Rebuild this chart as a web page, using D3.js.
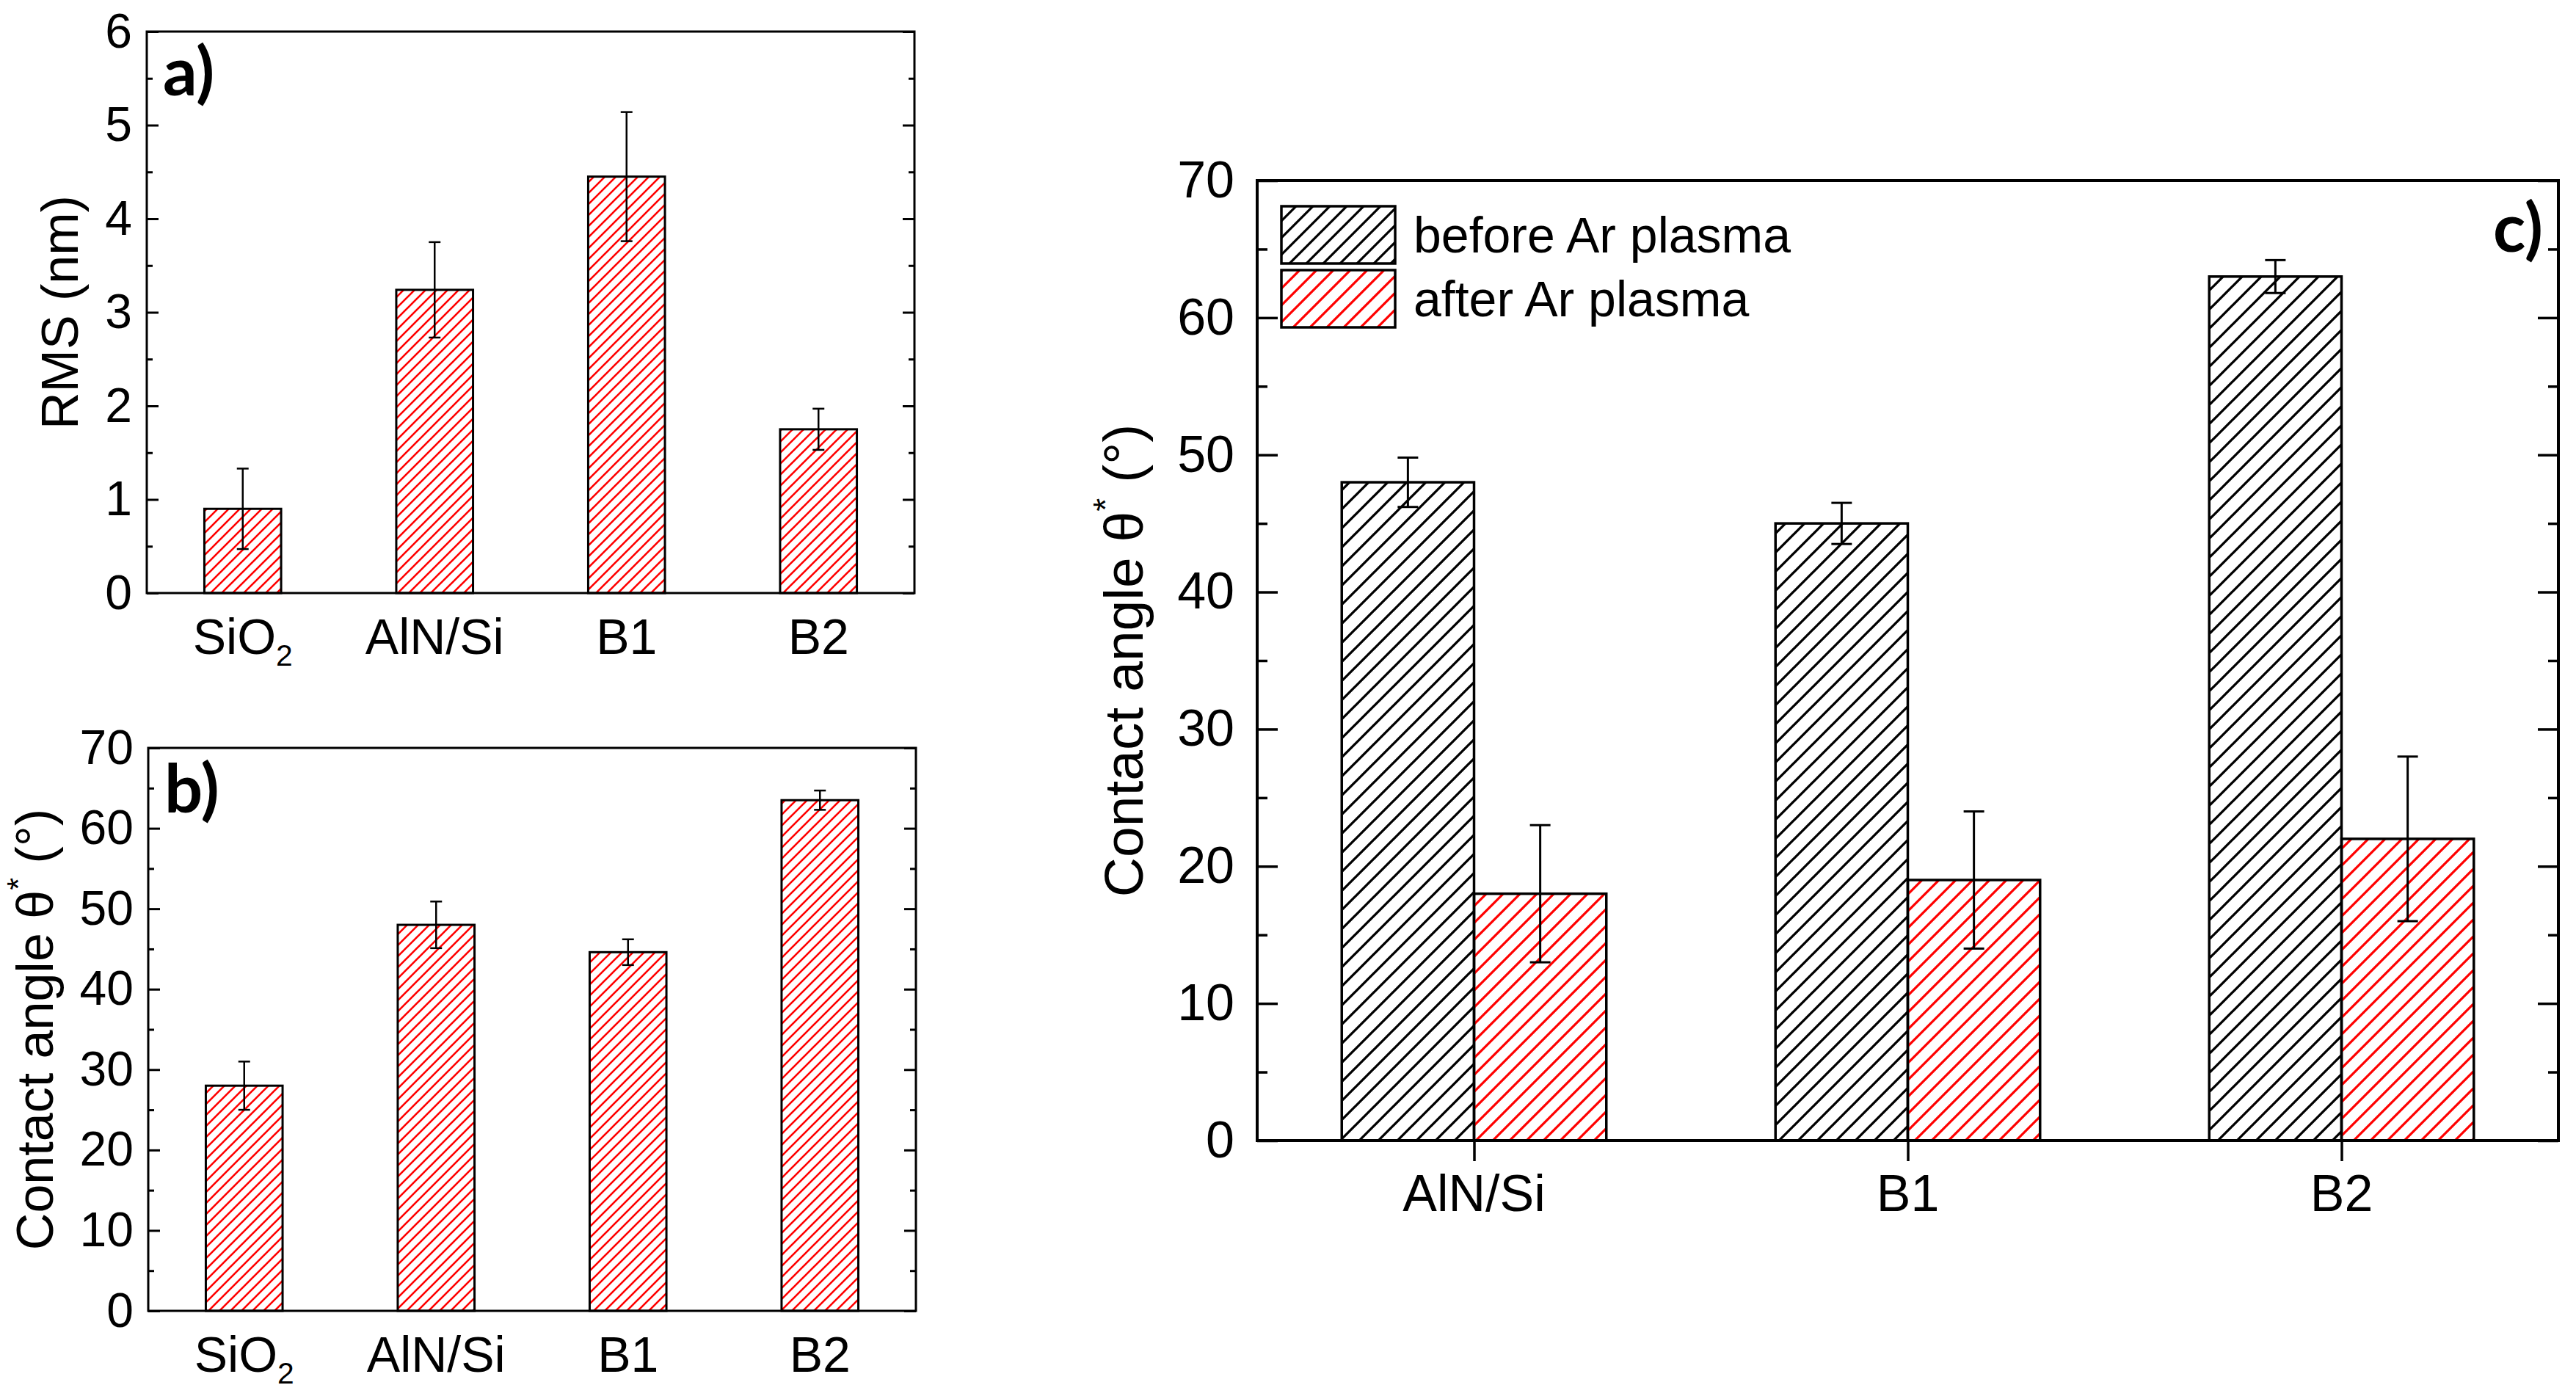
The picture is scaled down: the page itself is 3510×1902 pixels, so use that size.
<!DOCTYPE html>
<html>
<head>
<meta charset="utf-8">
<script src="https://cdn.jsdelivr.net/npm/d3@7"></script>
<style>
  body { margin: 0; background: #fff; }
  text { font-family: "Liberation Sans", Arial, sans-serif; fill: #000; }
  .tag { font-family: Lato, "Open Sans", sans-serif; font-weight: 700; }
</style>
</head>
<body>
<div id="charts"></div>
<script>
// panels a) and b)
const samplesAB = ["SiO2", "AlN/Si", "B1", "B2"];
const rmsValues = [0.9, 3.24, 4.45, 1.75];
const rmsErrors = [0.43, 0.51, 0.69, 0.22];
const angleValues = [28, 48, 44.6, 63.5];
const angleErrors = [3, 2.9, 1.6, 1.2];
const rmsTicks = [0, 1, 2, 3, 4, 5, 6];
const angleTicks = [0, 10, 20, 30, 40, 50, 60, 70];

// panel c)
const samplesC = ["AlN/Si", "B1", "B2"];
const beforeValues = [48, 45, 63];
const beforeErrors = [1.8, 1.5, 1.2];
const afterValues = [18, 19, 22];
const afterErrors = [5, 5, 6];
const seriesNames = ["before Ar plasma", "after Ar plasma"];

window.onload = init;

function hatch(defs, id, color, gap, sw) {
    const p = defs.append('pattern').attr('id', id)
        .attr('patternUnits', 'userSpaceOnUse')
        .attr('width', gap).attr('height', gap);
    p.append('path')
        .attr('d', `M0,${gap} L${gap},0 M${-gap / 2},${gap / 2} L${gap / 2},${-gap / 2} M${gap / 2},${gap * 1.5} L${gap * 1.5},${gap / 2}`)
        .attr('stroke', color).attr('stroke-width', sw).attr('fill', 'none');
}

// writes a category label, "SiO2" gets a subscript
function catLabel(sel, name) {
    if (name === "SiO2") {
        sel.append('tspan').text('SiO');
        sel.append('tspan').text('2').attr('font-size', '0.6em').attr('dy', '0.38em');
    } else {
        sel.text(name);
    }
}

function yTitle(g, x, y, size, parts) {
    const t = g.append('text').attr('transform', `translate(${x},${y}) rotate(-90)`)
        .attr('text-anchor', 'middle').attr('font-size', size);
    t.append('tspan').text(parts[0]);
    if (parts.length > 1) {
        t.append('tspan').text(parts[1]).attr('font-size', '0.62em').attr('dy', '-0.75em');
        t.append('tspan').text(parts[2]).attr('dy', '0.45em');
    }
}

function yAxes(g, y, ticks, left, right, major, minor, lw, pad, fs) {
    const step = ticks[1] - ticks[0];
    const minors = ticks.slice(0, -1).map(t => t + step / 2);
    const la = g.append('g').attr('transform', `translate(${left},0)`)
        .call(d3.axisLeft(y).tickValues(ticks).tickFormat(d => d)
            .tickSizeInner(-major).tickSizeOuter(0).tickPadding(pad));
    g.append('g').attr('transform', `translate(${left},0)`)
        .call(d3.axisLeft(y).tickValues(minors).tickSizeInner(-minor).tickSizeOuter(0).tickFormat(''));
    g.append('g').attr('transform', `translate(${right},0)`)
        .call(d3.axisRight(y).tickValues(ticks).tickSizeInner(-major).tickSizeOuter(0).tickFormat(''));
    g.append('g').attr('transform', `translate(${right},0)`)
        .call(d3.axisRight(y).tickValues(minors).tickSizeInner(-minor).tickSizeOuter(0).tickFormat(''));
    g.selectAll('.domain').remove();
    g.selectAll('.tick line').attr('stroke', '#000').attr('stroke-width', lw);
    la.selectAll('text').attr('font-size', fs).attr('font-family', '"Liberation Sans", Arial, sans-serif');
}

function smallPanel(svg, box, values, errors, ticks, title, tag) {
    const g = svg.append('g');
    const x = d3.scaleLinear().domain([0.5, samplesAB.length + 0.5]).range([box.left, box.right]);
    const y = d3.scaleLinear().domain([0, ticks[ticks.length - 1]]).range([box.bottom, box.top]);
    const bw = x(1.2) - x(1);

    g.selectAll('rect.bar').data(values).enter().append('rect').attr('class', 'bar')
        .attr('x', (d, i) => x(i + 1) - bw).attr('width', bw * 2)
        .attr('y', d => y(d)).attr('height', d => y(0) - y(d))
        .attr('fill', 'url(#hatchRedA)').attr('stroke', '#000').attr('stroke-width', 3);

    g.selectAll('g.err').data(values).enter().append('g').attr('class', 'err')
        .each(function (d, i) {
            const e = errors[i], cx = x(i + 1), s = d3.select(this);
            s.append('line').attr('x1', cx).attr('x2', cx).attr('y1', y(d - e)).attr('y2', y(d + e));
            s.append('line').attr('x1', cx - 8).attr('x2', cx + 8).attr('y1', y(d - e)).attr('y2', y(d - e));
            s.append('line').attr('x1', cx - 8).attr('x2', cx + 8).attr('y1', y(d + e)).attr('y2', y(d + e));
        }).selectAll('line').attr('stroke', '#000').attr('stroke-width', 2.5);

    yAxes(g, y, ticks, box.left, box.right, 16, 8, 3, 20, 66);

    g.append('rect').attr('x', box.left).attr('y', box.top)
        .attr('width', box.right - box.left).attr('height', box.bottom - box.top)
        .attr('fill', 'none').attr('stroke', '#000').attr('stroke-width', 3);

    samplesAB.forEach((s, i) => {
        const t = g.append('text').attr('x', x(i + 1)).attr('y', box.bottom + 83)
            .attr('text-anchor', 'middle').attr('font-size', 68);
        catLabel(t, s);
    });

    yTitle(g, box.titleX, (box.top + box.bottom) / 2, 70, title);
    g.append('text').attr('class', 'tag').attr('x', box.left + 22).attr('y', box.tagY)
        .attr('font-size', 92).text(tag);
}

function init() {
    const width = 3510;
    const height = 1902;
    const svg = d3.select('#charts').append('svg').attr('width', width).attr('height', height);
    svg.append('rect').attr('width', width).attr('height', height).attr('fill', '#fff');

    const defs = svg.append('defs');
    hatch(defs, 'hatchRedA', '#ff0000', 15, 2.6);
    hatch(defs, 'hatchBlackC', '#000', 26, 3.3);
    hatch(defs, 'hatchRedC', '#ff0000', 23, 3.2);
    hatch(defs, 'hatchBlackL', '#000', 23, 3.2);
    hatch(defs, 'hatchRedL', '#ff0000', 23, 3.2);

    smallPanel(svg, { left: 200, right: 1246, top: 43, bottom: 808, titleX: 106, tagY: 130 },
        rmsValues, rmsErrors, rmsTicks, ["RMS (nm)"], "a)");
    smallPanel(svg, { left: 202, right: 1248, top: 1019, bottom: 1786, titleX: 72, tagY: 1107 },
        angleValues, angleErrors, angleTicks, ["Contact angle θ", "*", " (°)"], "b)");

    // panel c
    const box = { left: 1713, right: 3486, top: 246, bottom: 1554 };
    const g = svg.append('g');
    const x = d3.scaleLinear().domain([0.5, samplesC.length + 0.5]).range([box.left, box.right]);
    const y = d3.scaleLinear().domain([0, 70]).range([box.bottom, box.top]);
    const bw = x(1.305) - x(1);
    const series = [
        { vals: beforeValues, errs: beforeErrors, fill: 'url(#hatchBlackC)', off: -1 },
        { vals: afterValues, errs: afterErrors, fill: 'url(#hatchRedC)', off: 0 }
    ];

    series.forEach(s => {
        g.selectAll(null).data(s.vals).enter().append('rect')
            .attr('x', (d, i) => x(i + 1) + s.off * bw).attr('width', bw)
            .attr('y', d => y(d)).attr('height', d => y(0) - y(d))
            .attr('fill', s.fill).attr('stroke', '#000').attr('stroke-width', 3.5);
    });
    series.forEach(s => {
        s.vals.forEach((d, i) => {
            const cx = x(i + 1) + s.off * bw + bw / 2, e = s.errs[i];
            const eg = g.append('g').attr('stroke', '#000').attr('stroke-width', 3);
            eg.append('line').attr('x1', cx).attr('x2', cx).attr('y1', y(d - e)).attr('y2', y(d + e));
            eg.append('line').attr('x1', cx - 14).attr('x2', cx + 14).attr('y1', y(d - e)).attr('y2', y(d - e));
            eg.append('line').attr('x1', cx - 14).attr('x2', cx + 14).attr('y1', y(d + e)).attr('y2', y(d + e));
        });
    });

    yAxes(g, y, angleTicks, box.left, box.right, 28, 14, 3.5, 31, 70);

    const xa = g.append('g').attr('transform', `translate(0,${box.bottom})`)
        .call(d3.axisBottom(x).tickValues(d3.range(1, samplesC.length + 1))
            .tickSizeInner(28).tickSizeOuter(0).tickFormat(''));
    xa.select('.domain').remove();
    xa.selectAll('.tick line').attr('stroke', '#000').attr('stroke-width', 3.5);

    g.append('rect').attr('x', box.left).attr('y', box.top)
        .attr('width', box.right - box.left).attr('height', box.bottom - box.top)
        .attr('fill', 'none').attr('stroke', '#000').attr('stroke-width', 4);

    samplesC.forEach((s, i) => {
        g.append('text').attr('x', x(i + 1)).attr('y', box.bottom + 96)
            .attr('text-anchor', 'middle').attr('font-size', 70).text(s);
    });

    yTitle(g, 1557, (box.top + box.bottom) / 2, 75, ["Contact angle θ", "*", " (°)"]);

    // legend
    const legFills = ['url(#hatchBlackL)', 'url(#hatchRedL)'];
    seriesNames.forEach((n, i) => {
        const ly = 281 + i * 87;
        g.append('rect').attr('x', 1746).attr('y', ly).attr('width', 155).attr('height', 78)
            .attr('fill', legFills[i]).attr('stroke', '#000').attr('stroke-width', 3.5);
        g.append('text').attr('x', 1926).attr('y', ly + 63).attr('font-size', 68).text(n);
    });

    g.append('text').attr('class', 'tag').attr('x', 3397).attr('y', 343)
        .attr('font-size', 92).text('c)');
}
</script>
</body>
</html>
